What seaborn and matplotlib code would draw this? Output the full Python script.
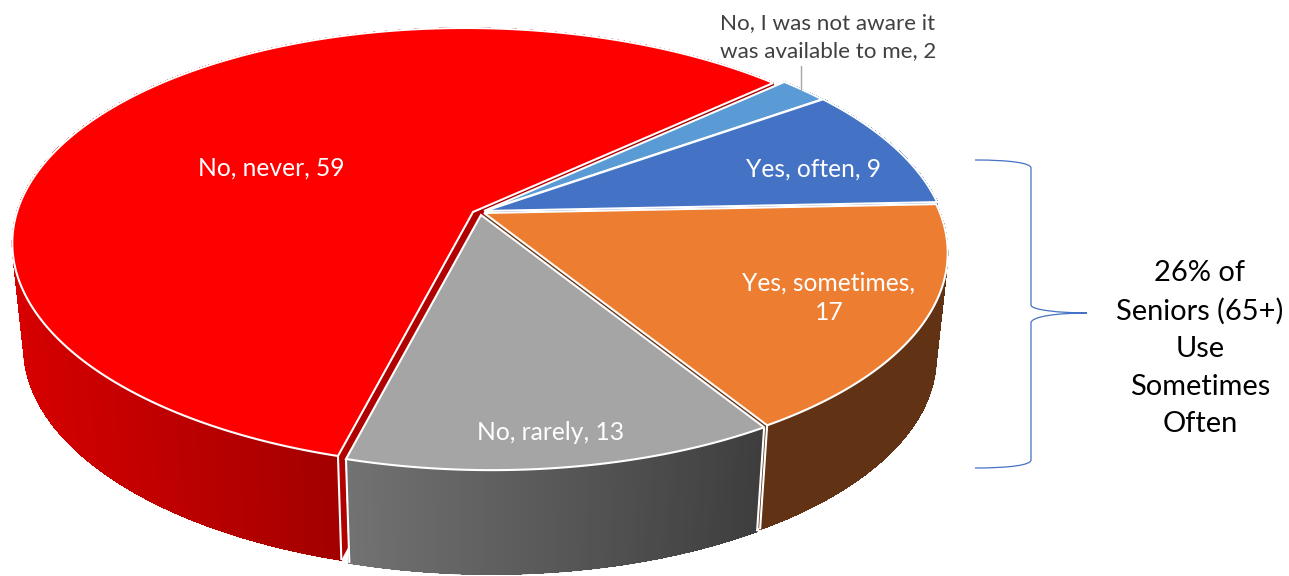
import numpy as np
import matplotlib
matplotlib.use("Agg")
import matplotlib.pyplot as plt
from matplotlib.collections import LineCollection, PolyCollection
from matplotlib.path import Path
from matplotlib.patches import PathPatch
import seaborn as sns

# Survey responses, clockwise around the pie
categories = ["Yes, often", "Yes, sometimes", "No, rarely", "No, never",
              "No, I was not aware it\nwas available to me"]
values = [9, 17, 13, 59, 2]

top_colors = ["#4472C4", "#ED7D31", "#A5A5A5", "#FF0000", "#5B9BD5"]
wall_light = ["#2F5597", "#613214", "#727272", "#D60000", "#3E78AE"]
wall_dark = ["#2F5597", "#613214", "#3E3E3E", "#A30000", "#3E78AE"]
cut_colors = ["#2F5597", "#613214", "#3E3E3E", "#B00000", "#3E78AE"]

bracket_title = "26% of\nSeniors (65+)\nUse\nSometimes\nOften"

# Perspective of the disc, in pixels
CX, CY = 480.0, 212.0
RX, RY = 456.0, 213.8
SHEAR, TILT = 9.0, 0.162
DEPTH, BASE_SCALE = 104.0, 0.975
START_DEG = -34.8

# Small pull-out of each slice away from the hub
nudges = [(5, -1), (4, 1), (1, 3), (-7, 0), (4, -1)]


def project(theta, nudge=(0, 0), base=False):
    u, v = np.cos(theta), np.sin(theta)
    w = 1 - TILT * v
    x = (RX * u + SHEAR * v) / w
    y = RY * v / w
    if base:
        x = x * BASE_SCALE
        y = y + DEPTH
    return CX + x + nudge[0], CY + y + nudge[1]


def hub(nudge, base=False):
    return CX + nudge[0], CY + nudge[1] + (DEPTH if base else 0)


sns.set_theme(style="white")
plt.rcParams["font.family"] = ["Lato", "DejaVu Sans"]

fig = plt.figure(figsize=(12.89, 5.76), dpi=100)
ax = fig.add_axes([0, 0, 1, 1])
ax.set_xlim(0, 1289)
ax.set_ylim(576, 0)
ax.axis("off")

shares = np.array(values, dtype=float) / np.sum(values) * 2 * np.pi
edges = np.deg2rad(START_DEG) + np.concatenate([[0], np.cumsum(shares)])

# Back-to-front so nearer slices hide what lies behind them
for i in [3, 4, 0, 1, 2]:
    t0, t1 = edges[i], edges[i + 1]
    nudge = nudges[i]
    arc = np.linspace(t0, t1, max(48, int(np.degrees(t1 - t0) * 3)))
    tx, ty = project(arc, nudge)
    bx, by = project(arc, nudge, base=True)

    # Radial cut faces that show through the gaps between slices
    for t in (t0, t1):
        hx, hy = hub(nudge)
        hbx, hby = hub(nudge, base=True)
        ex, ey = project(t, nudge)
        fx, fy = project(t, nudge, base=True)
        ax.fill([hx, ex, fx, hbx], [hy, ey, fy, hby], color=cut_colors[i], lw=0, zorder=1)

    # Outer wall, shaded across its width
    front = np.sin(arc) > -0.15
    visible_x = tx[front] if front.any() else tx
    span_lo, span_hi = visible_x.min(), visible_x.max()
    shades = sns.blend_palette([wall_light[i], wall_dark[i]], 120)
    quads, fills, rim = [], [], []
    for j in range(len(arc) - 1):
        quads.append([(tx[j], ty[j]), (tx[j + 1], ty[j + 1]),
                      (bx[j + 1], by[j + 1]), (bx[j], by[j])])
        rim.append([(bx[j], by[j]), (bx[j + 1], by[j + 1])])
        pos = (0.5 * (tx[j] + tx[j + 1]) - span_lo) / max(span_hi - span_lo, 1)
        fills.append(shades[int(np.clip(pos, 0, 0.999) * 120)])
    ax.add_collection(PolyCollection(quads, facecolors=fills, edgecolors=fills,
                                     linewidths=0.5, antialiaseds=False, zorder=1))
    # A thin smooth stroke keeps the lower rim from looking stepped
    ax.add_collection(LineCollection(rim, colors=fills, linewidths=1.0, zorder=1))

    # White seams down the ends of the wall
    for t in (t0, t1):
        ex, ey = project(t, nudge)
        fx, fy = project(t, nudge, base=True)
        if np.sin(t) > 0:
            ax.plot([ex, fx], [ey, fy], color="white", lw=1.5, solid_capstyle="butt", zorder=1)

    # Top face
    hx, hy = hub(nudge)
    ax.fill(np.r_[hx, tx], np.r_[hy, ty], facecolor=top_colors[i],
            edgecolor="white", lw=1.5, joinstyle="miter", zorder=1)

# Data labels
label_xy = [(813, 169), (829, 298), (551, 433), (271, 168), (828, 37)]
label_colors = ["white", "white", "white", "white", "#404040"]
label_sizes = [17.7, 17.7, 17.7, 17.7, 16.1]
label_spacing = [1.34, 1.34, 1.34, 1.34, 1.47]
for cat, val, (x, y), col, size, gap in zip(categories, values, label_xy, label_colors,
                                            label_sizes, label_spacing):
    txt = f"{cat}, {val}"
    if cat == "Yes, sometimes":
        txt = f"{cat},\n{val}"
    ax.text(x, y, txt, color=col, fontsize=size, ha="center", va="center", linespacing=gap)

# Leader line for the smallest slice
ax.plot([801, 801], [66, 90], color="#A6A6A6", lw=1.0)

# Curly brace grouping the two "Yes" slices
brace_vertices = [(975, 160), (1010, 160), (1031, 163), (1031, 168), (1031, 305),
                  (1031, 310), (1060, 313), (1087, 313), (1060, 313), (1031, 316),
                  (1031, 323), (1031, 460), (1031, 465), (1010, 468), (975, 468)]
brace_codes = [Path.MOVETO, Path.CURVE4, Path.CURVE4, Path.CURVE4, Path.LINETO,
               Path.CURVE4, Path.CURVE4, Path.CURVE4, Path.CURVE4, Path.CURVE4,
               Path.CURVE4, Path.LINETO, Path.CURVE4, Path.CURVE4, Path.CURVE4]
ax.add_patch(PathPatch(Path(brace_vertices, brace_codes), facecolor="none",
                       edgecolor="#4472C4", lw=0.9))

ax.text(1200, 348.5, bracket_title, color="black", fontsize=20.9, ha="center", va="center",
        linespacing=1.55)

fig.savefig("out.png", dpi=100, facecolor="white")
